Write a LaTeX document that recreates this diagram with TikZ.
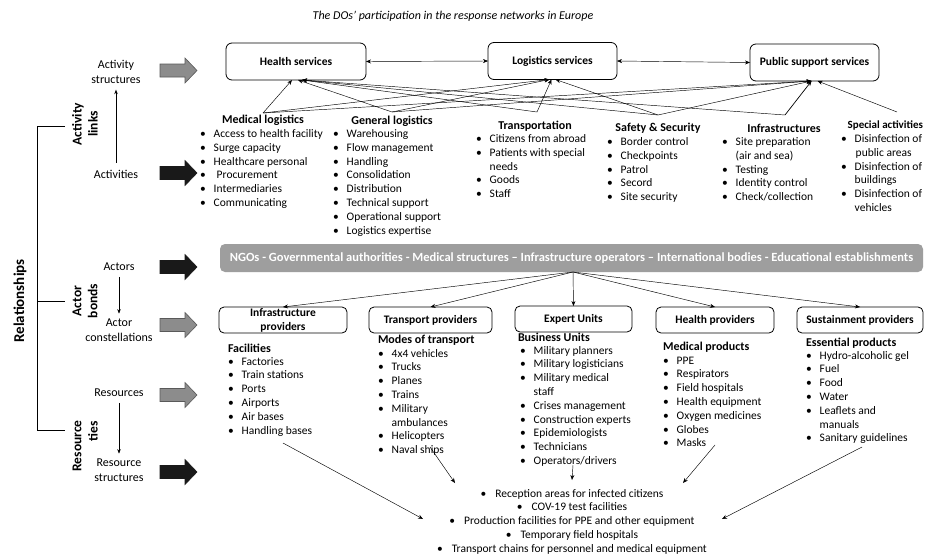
\documentclass[tikz,border=0pt]{standalone}
\usepackage{fontspec}
\setmainfont{Carlito}
\usetikzlibrary{arrows.meta}
\newcommand\blist[1]{{\fontsize{11.5}{13.8}\selectfont\begin{tabular}[t]{@{}c@{\hspace{8pt}}l@{}}#1\end{tabular}}}
\newcommand\blockarr[2]{\filldraw[#1] (160,#2) ++(0,-6.5) -- ++(25,0) -- ++(0,-6) -- ++(12,12.5) -- ++(-12,12.5) -- ++(0,-6) -- ++(-25,0) -- cycle;}
\tikzset{
  every node/.style={inner sep=0pt, outer sep=0pt},
  svc/.style={draw, rounded corners=6pt, line width=0.8pt, fill=white, minimum height=37pt, font=\bfseries\fontsize{11.5}{13}\selectfont},
  prov/.style={draw, rounded corners=5pt, line width=0.8pt, fill=white, minimum height=26pt, align=center, font=\bfseries\fontsize{11.5}{14}\selectfont},
  bar/.style={fill=black!38, rounded corners=5pt, minimum width=703pt, minimum height=28pt, text=white, font=\bfseries\fontsize{12.5}{14}\selectfont},
  lbl/.style={align=center, font=\fontsize{12}{15}\selectfont},
  rlbl/.style={align=center, rotate=90, font=\bfseries\fontsize{13.5}{16}\selectfont},
  hdr/.style={font=\bfseries\fontsize{12}{13}\selectfont},
  lst/.style={anchor=base west},
  web/.style={line width=0.45pt, -{Stealth[length=5pt,width=4pt]}},
  dbl/.style={line width=0.45pt, {Stealth[length=5pt,width=4pt]}-{Stealth[length=5pt,width=4pt]}},
  small/.style={line width=0.5pt, -{Stealth[length=4.5pt,width=3.5pt]}},
  garrow/.style={fill=black!45, draw=black!65, line width=0.6pt},
  karrow/.style={fill=black!90, draw=black!90, line width=0.6pt},
}
\begin{document}
\begin{tikzpicture}[x=1pt,y=-1pt]
\fill[white] (0,0) rectangle (925,557);
\useasboundingbox (0,0) rectangle (925,557);

% title
\node[font=\itshape\fontsize{12}{14}\selectfont] (title) at (453,16) {The DOs’ participation in the response networks in Europe};

% left bracket and labels
\node[font=\bfseries\fontsize{15}{17}\selectfont, rotate=90] (rel) at (20,301) {Relationships};
\draw[line width=0.6pt] (65,126) -- (37,126) -- (37,430) -- (65,430);
\draw[line width=0.6pt] (37,301) -- (65,301);
\node[rlbl] (al) at (85,124) {Activity\\links};
\node[rlbl] (ab) at (85,301) {Actor\\bonds};
\node[font=\bfseries\fontsize{13.5}{16}\selectfont, rotate=90] (rt1) at (77,446) {Resource};
\node[font=\bfseries\fontsize{13.5}{16}\selectfont, rotate=90] (rt2) at (93,431) {ties};

\node[lbl] (as) at (116,72) {Activity\\structures};
\node[lbl] (act) at (116,174) {Activities};
\node[lbl] (actors) at (119,267) {Actors};
\node[lbl] (acon) at (119,330) {Actor\\constellations};
\node[lbl] (res) at (119,393) {Resources};
\node[lbl] (rstr) at (119,470) {Resource\\structures};

\draw[small] ([yshift=7pt]act.north) -- ([yshift=-6pt]as.south);
\draw[small] ([yshift=-6pt]actors.south) -- ([yshift=5pt]acon.north);
\draw[small] ([yshift=-6pt]res.south) -- ([yshift=5pt]rstr.north);

% block arrows
\blockarr{garrow}{70.5}
\blockarr{karrow}{173}
\blockarr{karrow}{267}
\blockarr{garrow}{325}
\blockarr{garrow}{395}
\blockarr{karrow}{472}

% services
\node[svc, minimum width=140pt] (hs) at (296,61.5) {Health services};
\node[svc, minimum width=129pt] (ls) at (552.5,61) {Logistics services};
\node[svc, minimum width=129pt] (ps) at (814.5,62.5) {Public support services};
\draw[dbl] (hs.east) -- (ls.west);
\draw[dbl] (ls.east) -- (ps.west);

% activity groups
\node[hdr] (mlh) at (263,120) {Medical logistics};
\node[lst] (mll) at (200,137.5) {\blist{• & Access to health facility\\ • & Surge capacity\\ • & Healthcare personal\\ • & \hspace{3pt}Procurement\\ • & Intermediaries\\ • & Communicating}};
\node[hdr] (glh) at (392,121) {General logistics};
\node[lst] (gll) at (333,137.5) {\blist{• & Warehousing\\ • & Flow management\\ • & Handling\\ • & Consolidation\\ • & Distribution\\ • & Technical support\\ • & Operational support\\ • & Logistics expertise}};
\node[hdr] (trh) at (535,126) {Transportation};
\node[lst] (trl) at (476,142.5) {\blist{• & Citizens from abroad\\ • & Patients with special\\ & needs\\ • & Goods\\ • & Staff}};
\node[hdr] (ssh) at (658,128) {Safety \& Security};
\node[lst] (ssl) at (607,145.5) {\blist{• & Border control\\ • & Checkpoints\\ • & Patrol\\ • & Secord\\ • & Site security}};
\node[hdr] (inh) at (784,128) {Infrastructures};
\node[lst] (inl) at (722,145.5) {\blist{• & Site preparation\\ & (air and sea)\\ • & Testing\\ • & Identity control\\ • & Check/collection}};
\node[font=\bfseries\fontsize{11}{13}\selectfont, anchor=east] (sah) at (923,125) {Special activities};
\node[lst] (sal) at (841,142.5) {\blist{• & Disinfection of\\ & \hspace{1pt}public areas\\ • & Disinfection of\\ & buildings\\ • & Disinfection of\\ & vehicles}};

% web of activity links
\coordinate (mlA) at (263,113);
\coordinate (glA) at (392,112);
\coordinate (trA) at (537,112);
\coordinate (ssA) at (658,115);
\coordinate (inA) at (785,115);
\coordinate (saA) at (897,112);
\draw[web] (mlA) -- ([xshift=-4pt]hs.south);
\draw[web] (mlA) -- ([xshift=-3pt]ls.south);
\draw[web] (mlA) -- ([xshift=-3pt]ps.south);
\draw[web] (glA) -- ([xshift=2pt]hs.south);
\draw[web] (glA) -- ([xshift=-3pt]ls.south);
\draw[web] (glA) -- ([xshift=-3pt]ps.south);
\draw[web] (trA) -- ([xshift=6pt]hs.south);
\draw[web] (trA) -- ([xshift=-1pt]ls.south);
\draw[web] (ssA) -- ([xshift=6pt]hs.south);
\draw[web] (ssA) -- ([xshift=3pt]ls.south);
\draw[web] (ssA) -- ([xshift=-3pt]ps.south);
\draw[web] (inA) -- ([xshift=6pt]hs.south);
\draw[web, line width=0.7pt] (inA) -- ([xshift=-3pt]ps.south);
\draw[web] (saA) -- ([xshift=3pt]ps.south);

% actors bar
\node[bar] (bar) at (571.5,258) {NGOs - Governmental authorities - Medical structures – Infrastructure operators – International bodies - Educational establishments};
\coordinate (bs) at (573,272);

% providers
\node[prov, minimum width=128pt] (ip) at (283,320) {Infrastructure\\providers};
\node[prov, minimum width=123pt] (tp) at (430.5,320) {Transport providers};
\node[prov, minimum width=117pt] (eu) at (573.5,319) {Expert Units};
\node[prov, minimum width=118pt] (hp) at (715,320) {Health providers};
\node[prov, minimum width=126pt] (sp) at (860,320) {Sustainment providers};
\draw[web] (bs) -- (ip.north);
\draw[web] (bs) -- (tp.north);
\draw[web] (bs) -- (eu.north);
\draw[web] (bs) -- (hp.north);
\draw[web] (bs) -- (sp.north);

% resources
\node[hdr, anchor=base west] (fah) at (228,352) {Facilities};
\node[lst] (fal) at (228,365) {\blist{• & Factories\\ • & Train stations\\ • & Ports\\ • & Airports\\ • & Air bases\\ • & Handling bases}};
\node[hdr, anchor=base west] (mth) at (378,343) {Modes of transport};
\node[lst] (mtl) at (378,357) {\blist{• & 4x4 vehicles\\ • & Trucks\\ • & Planes\\ • & Trains\\ • & Military\\ & ambulances\\ • & Helicopters\\ • & Naval ships}};
\node[hdr, anchor=base west] (buh) at (518,341) {Business Units};
\node[lst] (bul) at (520,354) {\blist{• & Military planners\\ • & Military logisticians\\ • & Military medical\\ & staff\\ • & Crises management\\ • & Construction experts\\ • & Epidemiologists\\ • & Technicians\\ • & Operators/drivers}};
\node[hdr, anchor=base west] (mph) at (663,350) {Medical products};
\node[lst] (mpl) at (663,364) {\blist{• & PPE\\ • & Respirators\\ • & Field hospitals\\ • & Health equipment\\ • & Oxygen medicines\\ • & Globes\\ • & Masks}};
\node[hdr, anchor=base west] (eph) at (806,346) {Essential products};
\node[lst] (epl) at (806,359) {\blist{• & Hydro-alcoholic gel\\ • & Fuel\\ • & Food\\ • & Water\\ • & Leaflets and\\ & manuals\\ • & Sanitary guidelines}};

% resource structures
\node[anchor=base] (out) at (572,497) {{\fontsize{11.5}{13.75}\selectfont\begin{tabular}[t]{@{}c@{}}•\hspace{9pt}Reception areas for infected citizens\\ •\hspace{9pt}COV-19 test facilities\\ •\hspace{9pt}Production facilities for PPE and other equipment\\ •\hspace{9pt}Temporary field hospitals\\ •\hspace{9pt}Transport chains for personnel and medical equipment\end{tabular}}};
\coordinate (hbA) at (283,443); \coordinate (hbB) at (423,519);
\coordinate (nsA) at (430,447); \coordinate (nsB) at (455,483);
\coordinate (odA) at (573,465); \coordinate (odB) at (572,480);
\coordinate (mkA) at (715,445); \coordinate (mkB) at (683,483);
\coordinate (sgA) at (862,447); \coordinate (sgB) at (722,519);
\draw[web] (hbA) -- (hbB);
\draw[web] (nsA) -- (nsB);
\draw[web] (odA) -- (odB);
\draw[web] (mkA) -- (mkB);
\draw[web] (sgA) -- (sgB);
\end{tikzpicture}
\end{document}
